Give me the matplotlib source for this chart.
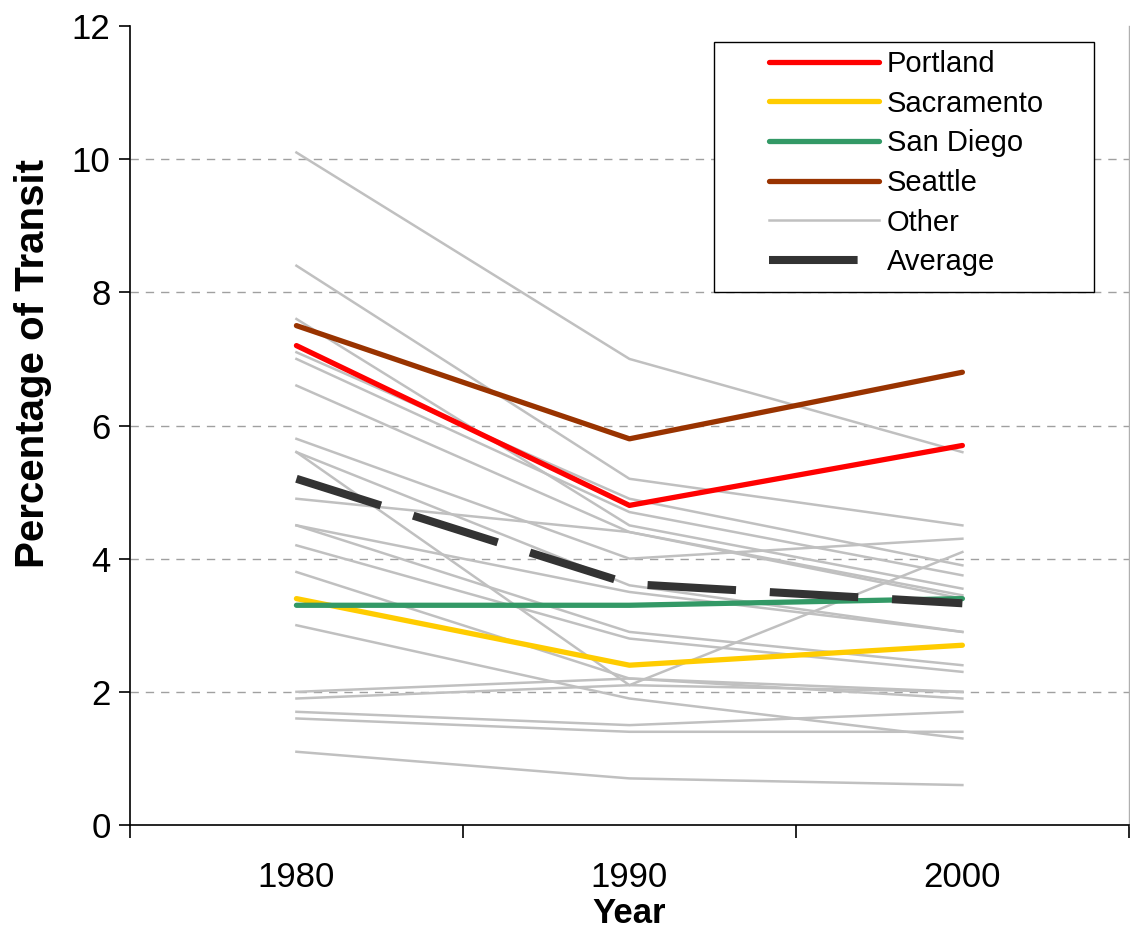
import matplotlib
matplotlib.use("Agg")
import matplotlib.pyplot as plt
from matplotlib.patches import Rectangle

plt.rcParams['font.family'] = ['Liberation Sans', 'DejaVu Sans']

years = ["1980", "1990", "2000"]

portland = [7.2, 4.8, 5.7]
sacramento = [3.4, 2.4, 2.7]
san_diego = [3.3, 3.3, 3.4]
seattle = [7.5, 5.8, 6.8]
average = [5.2, 3.62, 3.33]

others = [
    [10.1, 7.0, 5.6],
    [8.4, 5.2, 4.5],
    [7.6, 4.5, 3.55],
    [7.1, 4.9, 3.9],
    [7.0, 4.7, 3.75],
    [6.6, 4.4, 3.4],
    [5.8, 4.0, 4.3],
    [5.6, 3.6, 2.9],
    [5.6, 2.1, 4.1],
    [4.9, 4.4, 3.45],
    [4.5, 3.5, 2.9],
    [4.5, 2.9, 2.4],
    [4.2, 2.8, 2.3],
    [3.8, 2.2, 2.0],
    [3.0, 1.9, 1.3],
    [2.0, 2.2, 1.9],
    [1.9, 2.1, 2.0],
    [1.7, 1.5, 1.7],
    [1.6, 1.4, 1.4],
    [1.1, 0.7, 0.6],
]

yticks = [0, 2, 4, 6, 8, 10, 12]

fig = plt.figure(figsize=(11.3, 9.32), dpi=100)
ax = fig.add_axes([0.115, 0.1148, 0.884, 0.8573])

x = list(range(len(years)))

for i, o in enumerate(others):
    ax.plot(x, o, color="#C0C0C0", lw=1.8, zorder=2,
            label="Other" if i == 0 else "_nolegend_")

lp, = ax.plot(x, portland, color="#FF0000", lw=3.8, zorder=4, label="Portland", solid_capstyle="round")
ls, = ax.plot(x, sacramento, color="#FFCC00", lw=3.8, zorder=4, label="Sacramento", solid_capstyle="round")
ld, = ax.plot(x, san_diego, color="#339966", lw=3.8, zorder=4, label="San Diego", solid_capstyle="round")
le, = ax.plot(x, seattle, color="#993300", lw=3.8, zorder=4, label="Seattle", solid_capstyle="round")
la, = ax.plot(x, average, color="#333333", lw=5.8, zorder=5, label="Average",
              dashes=(11, 4.2), dash_capstyle="butt")

for yv in yticks[1:-1]:
    ax.axhline(yv, color="#A0A0A0", lw=1.0, ls=(0, (6, 5)), zorder=1)

ax.set_xlim(-0.5, 2.5)
ax.set_ylim(0, 12)
ax.set_yticks(yticks)
ax.set_yticklabels([str(v) for v in yticks], fontsize=25)
ax.set_xticks(x)
ax.set_xticklabels(years, fontsize=25)
ax.set_xticks([-0.5, 0.5, 1.5, 2.5], minor=True)
ax.tick_params(axis="x", which="major", length=0, pad=26)
ax.tick_params(axis="x", which="minor", length=9, width=1.2, direction="out")
ax.tick_params(axis="y", length=8, width=1.2, direction="out", pad=6)

ax.spines["top"].set_visible(False)
ax.spines["right"].set_color("#B0B0B0")
ax.spines["right"].set_linewidth(1.0)
ax.spines["left"].set_linewidth(1.2)
ax.spines["bottom"].set_linewidth(1.2)

ax.set_xlabel("Year", fontsize=25, fontweight="bold", labelpad=2)
ax.set_ylabel("Percentage of Transit", fontsize=29, fontweight="bold")
ax.yaxis.set_label_coords(-0.078, 0.577)

# legend frame box
ax.add_patch(Rectangle((0.585, 0.667), 0.38, 0.313, transform=ax.transAxes,
                       facecolor="white", edgecolor="black", lw=1.0, zorder=9))

other_handle = [l for l in ax.get_lines() if l.get_label() == "Other"][0]
leg = ax.legend([lp, ls, ld, le, other_handle, la],
                ["Portland", "Sacramento", "San Diego", "Seattle", "Other", "Average"],
                loc="upper left", bbox_to_anchor=(0.64, 0.97), fontsize=21,
                frameon=False, handlelength=3.77,
                handletextpad=0.27, labelspacing=0.4, borderpad=0.0, borderaxespad=0)
leg.set_zorder(10)

fig.savefig("out.png", dpi=100)
